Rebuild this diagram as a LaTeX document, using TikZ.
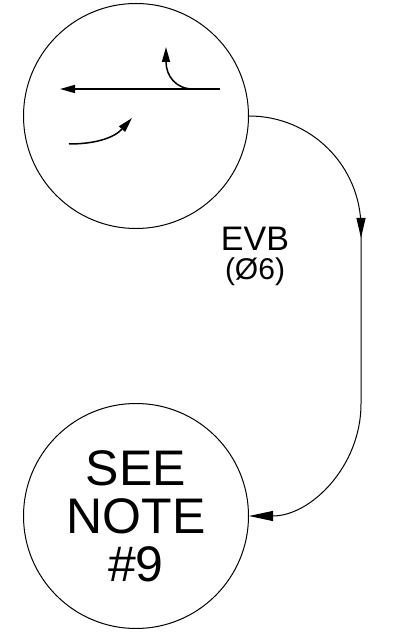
\documentclass[tikz,border=0pt]{standalone}
\usepackage{fontspec}
\setmainfont{Liberation Sans}
\usetikzlibrary{arrows.meta,decorations.markings}
\begin{document}
\begin{tikzpicture}[x=1pt,y=1pt,
  bubble/.style={draw,circle,line width=1pt,minimum size=225pt,inner sep=0pt,align=center},
  inner/.style={line width=1.5pt,-{Triangle[length=15pt,width=8pt]}},
  conn/.style={line width=1pt},
  lbl/.style={inner sep=0pt,font=\fontsize{34}{34}\selectfont}]
\useasboundingbox (0,0) rectangle (394,634);
\node[bubble] (top) at (136,518) {};
\node[bubble,font=\fontsize{50}{48}\selectfont] (bot) at (136,118) {SEE\\NOTE\\\#9};
\node[lbl] (evb) at (255,395) {EVB};
\node[lbl,font=\fontsize{30}{30}\selectfont] (code) at (255,362) {(Ø6)};
% inner arrows
\coordinate (h1) at (220,545);
\coordinate (h2) at (60,545);
\coordinate (c1) at (193,545);
\coordinate (c2) at (166,587);
\coordinate (l1) at (69,490);
\coordinate (l2) at (132,516);
\draw[inner] (h1) -- (h2);
\draw[inner] (c1) .. controls (176,545) and (166,558) .. (c2);
\draw[inner] (l1) .. controls (95,490) and (114,496) .. (l2);
% connector
\coordinate (v1) at (361,406);
\coordinate (v2) at (361,230);
\draw[conn,
  postaction={decorate},
  decoration={markings,mark=at position 186pt with {\arrow{Triangle[length=20pt,width=9pt]}}},
  -{Triangle[length=24pt,width=10pt]}]
  (top.east) .. controls (311,518) and (361,468) .. (v1)
  -- (v2)
  .. controls (361,168) and (311,118) .. (bot.east);
\end{tikzpicture}
\end{document}
